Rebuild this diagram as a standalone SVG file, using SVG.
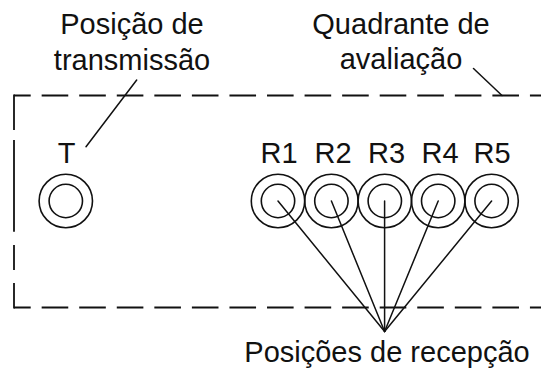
<svg xmlns="http://www.w3.org/2000/svg" width="541" height="369" viewBox="0 0 541 369">
  <style>
    .lbl { font-family: "Liberation Sans", Arial, sans-serif; font-size: 29px; fill: #111; text-anchor: middle; }
    .ring { fill: none; stroke: #111; stroke-width: 1.6; }
    .ln { fill: none; stroke: #111; stroke-width: 1.5; stroke-linecap: round; }
    .dash { fill: none; stroke: #111; stroke-width: 1.8; }
  </style>
  <rect width="541" height="369" fill="#fff"/>

  <g id="quadrant">
    <line class="dash" x1="14" y1="95.5" x2="541" y2="95.5" stroke-dasharray="26.6 10.96" stroke-dashoffset="9.9"/>
    <line class="dash" x1="14" y1="307.5" x2="541" y2="307.5" stroke-dasharray="26.6 10.96" stroke-dashoffset="9.9"/>
    <line class="dash" x1="14" y1="94.6" x2="14" y2="130"/>
    <line class="dash" x1="14" y1="140" x2="14" y2="231.7"/>
    <line class="dash" x1="14" y1="245" x2="14" y2="270"/>
    <line class="dash" x1="14" y1="283" x2="14" y2="308.4"/>
    <text class="lbl" x="401" y="34">Quadrante de</text>
    <text class="lbl" x="401" y="69">avaliação</text>
  </g>

  <g id="transmission-label">
    <text class="lbl" x="132" y="34">Posição de</text>
    <text class="lbl" x="132" y="70">transmissão</text>
  </g>

  <g id="node-T">
    <text class="lbl" x="66.5" y="162.5">T</text>
    <circle class="ring" cx="65.8" cy="201" r="26.7"/>
    <circle class="ring" cx="65.8" cy="201" r="16.7"/>
  </g>

  <g id="node-R1">
    <text class="lbl" x="279" y="163">R1</text>
    <circle class="ring" cx="278" cy="201" r="26.7"/>
    <circle class="ring" cx="278" cy="201" r="16.7"/>
  </g>
  <g id="node-R2">
    <text class="lbl" x="333" y="163">R2</text>
    <circle class="ring" cx="331.4" cy="201" r="26.7"/>
    <circle class="ring" cx="331.4" cy="201" r="16.7"/>
  </g>
  <g id="node-R3">
    <text class="lbl" x="386.5" y="163">R3</text>
    <circle class="ring" cx="384.8" cy="201" r="26.7"/>
    <circle class="ring" cx="384.8" cy="201" r="16.7"/>
  </g>
  <g id="node-R4">
    <text class="lbl" x="440" y="163">R4</text>
    <circle class="ring" cx="438.2" cy="201" r="26.7"/>
    <circle class="ring" cx="438.2" cy="201" r="16.7"/>
  </g>
  <g id="node-R5">
    <text class="lbl" x="492" y="163">R5</text>
    <circle class="ring" cx="491.6" cy="201" r="26.7"/>
    <circle class="ring" cx="491.6" cy="201" r="16.7"/>
  </g>

  <g id="reception-label">
    <text class="lbl" x="387" y="361.5">Posições de recepção</text>
  </g>

  <g id="connectors">
    <line class="ln" x1="136.7" y1="80" x2="86" y2="146.7"/>
    <line class="ln" x1="473.5" y1="68.5" x2="502" y2="95.5"/>
    <line class="ln" x1="278" y1="201" x2="384.6" y2="331.5"/>
    <line class="ln" x1="331.4" y1="201" x2="384.6" y2="331.5"/>
    <line class="ln" x1="384.6" y1="201" x2="384.6" y2="331.5"/>
    <line class="ln" x1="438.2" y1="201" x2="384.6" y2="331.5"/>
    <line class="ln" x1="491.6" y1="201" x2="384.6" y2="331.5"/>
  </g>
</svg>
